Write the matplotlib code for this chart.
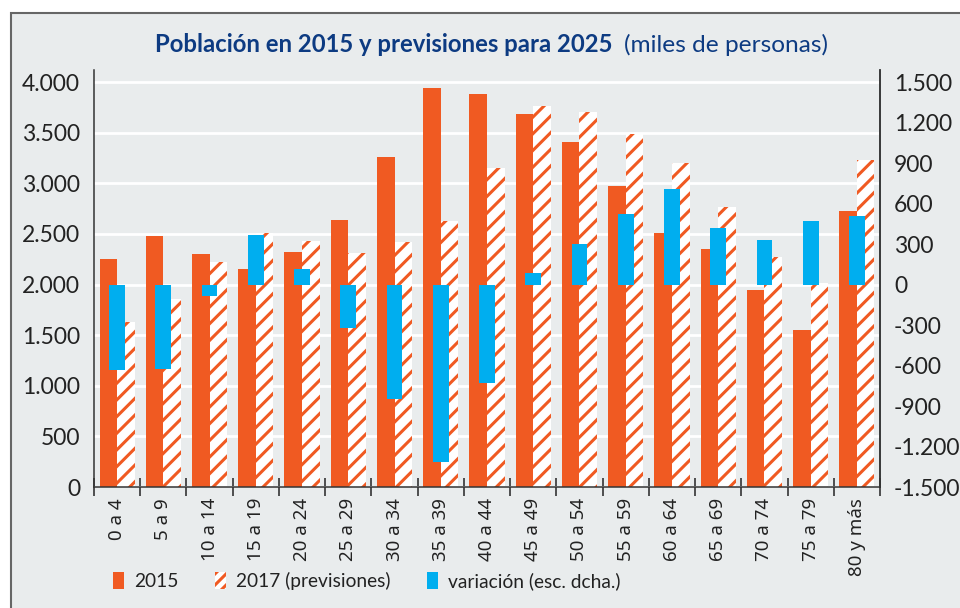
import matplotlib.pyplot as plt
from matplotlib.patches import Patch, Rectangle
from matplotlib.ticker import FuncFormatter
import numpy as np

grupos = ['0 a 4', '5 a 9', '10 a 14', '15 a 19', '20 a 24', '25 a 29', '30 a 34',
          '35 a 39', '40 a 44', '45 a 49', '50 a 54', '55 a 59', '60 a 64', '65 a 69',
          '70 a 74', '75 a 79', '80 y más']
pob_2015 = [2254, 2482, 2307, 2152, 2317, 2637, 3264, 3940, 3884, 3686, 3406, 2973,
            2505, 2356, 1947, 1554, 2729]
pob_2025 = [1630, 1861, 2224, 2508, 2432, 2310, 2422, 2633, 3152, 3769, 3703, 3491,
            3204, 2769, 2274, 2016, 3234]
variacion = [-630, -625, -86, 365, 116, -323, -849, -1318, -728, 86, 304, 526, 706,
             420, 331, 472, 511]

naranja = '#F05A22'
azul = '#00AEEF'
fondo = '#E9ECED'
azul_titulo = '#0D3B82'

plt.rcParams['font.family'] = ['Lato', 'DejaVu Sans']
plt.rcParams['hatch.linewidth'] = 2.2


def miles(v, pos=None):
    return f'{int(round(v)):,}'.replace(',', '.')


fig = plt.figure(figsize=(9.6, 6.08), dpi=100)
fig.patch.set_facecolor('white')
fig.patches.append(Rectangle((11 / 960, -0.05), 1.0, 1 - 13 / 608 + 0.05,
                             transform=fig.transFigure, facecolor=fondo,
                             edgecolor='#666666', linewidth=1.5, zorder=-10))

ax = fig.add_axes([94 / 960, 1 - 487 / 608, (880 - 94) / 960, (487 - 70) / 608])
ax.set_facecolor(fondo)
x = np.arange(len(grupos))
w = 0.38

ax.bar(x - w / 2, pob_2015, w, color=naranja, zorder=2)
ax.bar(x + w / 2, pob_2025, w, color='white', edgecolor=naranja, linewidth=0,
       hatch='//', zorder=2)

ax.set_ylim(0, 4120)
ax.set_yticks(range(0, 4001, 500))
ax.yaxis.set_major_formatter(FuncFormatter(miles))
ax.grid(axis='y', color='white', linewidth=2, zorder=1)
ax.set_axisbelow(True)

ax.set_xlim(-0.5, len(grupos) - 0.5)
ax.set_xticks(np.arange(-0.5, len(grupos)))
ax.set_xticklabels([])
ax.set_xticks(x, minor=True)
ax.set_xticklabels(grupos, minor=True, rotation=90, fontsize=13.5,
                   family=['Noto Sans', 'DejaVu Sans'], color='#222222')
ax.tick_params(axis='x', which='major', direction='inout', length=13, width=1.2,
               color='#333333')
ax.tick_params(axis='x', which='minor', length=0, pad=8)
ax.tick_params(axis='y', length=0, labelsize=16.5, labelcolor='#222222', pad=10)

for lado in ['top']:
    ax.spines[lado].set_visible(False)
for lado in ['left', 'bottom', 'right']:
    ax.spines[lado].set_color('#333333')
    ax.spines[lado].set_linewidth(1.1)

ax2 = ax.twinx()
ax2.bar(x, variacion, 0.34, color=azul, zorder=3)
ax2.set_ylim(-1500, 1590)
ax2.set_yticks(range(-1500, 1501, 300))
ax2.yaxis.set_major_formatter(FuncFormatter(miles))
ax2.tick_params(axis='y', length=0, labelsize=16.5, labelcolor='#222222', pad=10)
ax2.spines['top'].set_visible(False)
ax2.spines['right'].set_color('#333333')
ax2.spines['right'].set_linewidth(1.1)
ax2.spines['left'].set_visible(False)
ax2.spines['bottom'].set_visible(False)

fig.text(155 / 960, 1 - 52 / 608, 'Población en 2015 y previsiones para 2025',
         fontsize=17.2, fontweight='bold', color=azul_titulo, ha='left', va='baseline')
fig.text(624 / 960, 1 - 52 / 608, '(miles de personas)',
         fontsize=17.6, color=azul_titulo, ha='left', va='baseline')

manejadores = [
    Patch(facecolor=naranja, edgecolor=naranja, linewidth=0),
    Patch(facecolor='white', edgecolor=naranja, linewidth=0, hatch='///'),
    Patch(facecolor=azul, edgecolor=azul, linewidth=0),
]
etiquetas = ['2015', '2017 (previsiones)', 'variación (esc. dcha.)']
fig.legend(manejadores, etiquetas, loc='center left',
           bbox_to_anchor=(96 / 960, 1 - 581 / 608), ncol=3, frameon=False,
           fontsize=13.8, handlelength=0.55, handleheight=1.0, handletextpad=0.55,
           columnspacing=1.9, labelcolor='#222222')

fig.savefig('out.png', dpi=100, facecolor=fig.get_facecolor())
